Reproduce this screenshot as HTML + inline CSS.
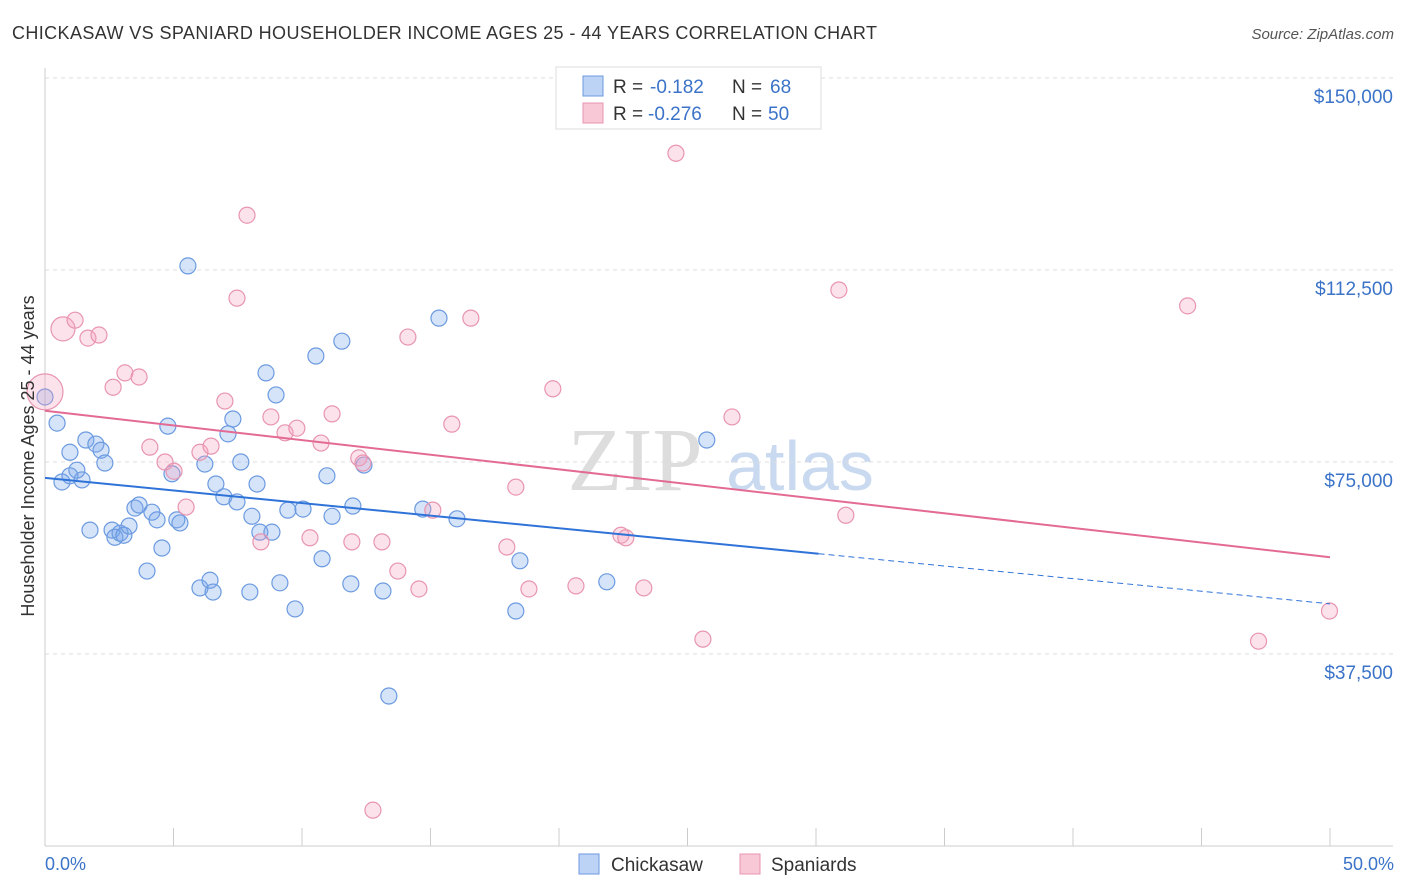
<!DOCTYPE html>
<html><head><meta charset="utf-8"><style>
body{margin:0;background:#fff;font-family:"Liberation Sans",sans-serif;}
svg{display:block}
</style></head><body>
<svg id="chart" width="1406" height="892">
<text x="12" y="39" font-size="18" fill="#333" textLength="865" lengthAdjust="spacing">CHICKASAW VS SPANIARD HOUSEHOLDER INCOME AGES 25 - 44 YEARS CORRELATION CHART</text>
<text x="1394" y="39" font-size="15" fill="#555" font-style="italic" text-anchor="end">Source: ZipAtlas.com</text>
<g><text x="635" y="490" font-size="90" fill="#ddd" font-family="Liberation Serif,serif" text-anchor="middle">ZIP</text><text x="800" y="490" font-size="70" fill="#c9d9ef" text-anchor="middle">atlas</text></g>
<g id="grid"></g><g id="axes"></g><g id="marks"></g>
<text transform="translate(34,456) rotate(-90)" font-size="18" fill="#333" text-anchor="middle">Householder Income Ages 25 - 44 years</text>
<text x="45" y="870" font-size="18" fill="#3b73c8">0.0%</text>
<text x="1394" y="870" font-size="18" fill="#3b73c8" text-anchor="end">50.0%</text>
<g>
<rect x="556" y="67" width="265" height="62" fill="#fff" stroke="#ddd"/>
<rect x="583" y="76" width="20" height="20" fill="#bcd3f5" stroke="#6b9ae0"/>
<rect x="583" y="103" width="20" height="20" fill="#f9c8d6" stroke="#e895b0"/>
<text x="613" y="93" font-size="19" fill="#333">R =</text>
<text x="650" y="93" font-size="19" fill="#3b73c8">-0.182</text>
<text x="732" y="93" font-size="19" fill="#333">N =</text>
<text x="770" y="93" font-size="19" fill="#3b73c8">68</text>
<text x="613" y="120" font-size="19" fill="#333">R =</text>
<text x="648" y="120" font-size="19" fill="#3b73c8">-0.276</text>
<text x="732" y="120" font-size="19" fill="#333">N =</text>
<text x="768" y="120" font-size="19" fill="#3b73c8">50</text>
</g>
<g>
<rect x="579" y="854" width="20" height="20" fill="#bcd3f5" stroke="#6b9ae0"/>
<text x="611" y="871" font-size="19" fill="#333">Chickasaw</text>
<rect x="740" y="854" width="20" height="20" fill="#f9c8d6" stroke="#e895b0"/>
<text x="771" y="871" font-size="19" fill="#333">Spaniards</text>
</g>
</svg>
<script>
const yTicks=[37500,75000,112500,150000];
const yTickLabels=["$37,500","$75,000","$112,500","$150,000"];
const blueX=[0,0.47,0.66,0.97,1.24,0.97,1.44,1.59,1.75,1.98,2.18,2.33,2.61,2.72,2.92,3.07,3.27,3.5,3.66,3.97,4.16,4.36,4.55,4.78,4.94,5.13,5.25,5.56,6.03,6.22,6.42,6.54,6.65,6.96,7.12,7.31,7.47,7.62,7.97,8.05,8.25,8.36,8.6,8.83,8.99,9.14,9.45,9.73,10.04,10.54,10.78,10.97,11.17,11.55,11.9,11.98,12.41,13.15,13.38,14.7,15.33,16.03,18.32,18.48,21.86,25.75];
const blueY=[87.7,82.6,71.1,76.9,73.4,72.3,71.5,79.3,61.7,78.5,77.3,74.8,61.7,60.3,61.1,60.7,62.5,66,66.6,53.7,65.2,63.7,58.2,82,72.7,63.7,63.1,113.3,50.4,74.6,51.9,49.6,70.7,68.2,80.5,83.4,67.2,75,49.6,64.4,70.7,61.3,92.4,61.3,88.1,51.4,65.6,46.3,65.8,95.7,56.1,72.3,64.4,98.6,51.2,66.4,74.4,49.8,29.3,65.8,103.1,63.9,45.9,55.7,51.6,79.3];
const pinkX=[0,0.7,1.17,1.67,2.1,2.65,3.11,3.66,4.08,4.67,5.02,5.49,6.03,6.46,7,7.47,7.86,8.4,8.79,9.34,9.8,10.31,10.74,11.17,11.94,12.21,12.37,12.76,13.11,13.73,14.12,14.55,15.09,15.83,16.57,17.97,18.32,18.83,19.76,20.66,22.41,22.6,23.3,24.55,25.6,26.73,30.89,31.16,44.46,47.22,49.98];
const pinkY=[88.7,101,102.7,99.2,99.8,89.6,92.4,91.6,77.9,75,73.2,66.2,76.9,78.1,86.9,107,123.2,59.4,83.8,80.7,81.6,60.2,78.7,84.4,59.4,75.8,74.8,7,59.4,53.7,99.4,50.2,65.6,82.4,103.1,58.4,70.1,50.2,89.3,50.8,60.7,60.2,50.4,135.3,40.4,83.8,108.6,64.6,105.5,40,45.9];
const pinkR=[18,12];
const blueTrend=[71.9,47.3], blueSolidEnd=30.1;
const pinkTrend=[85.0,56.4];
const NS="http://www.w3.org/2000/svg";
const X=v=>45+v/50*1285, Y=k=>846-k*1000/37500*192;
function mk(t,a,p){const e=document.createElementNS(NS,t);for(const k in a)e.setAttribute(k,a[k]);document.getElementById(p).appendChild(e);return e;}
yTicks.forEach((t,i)=>{
 const l=mk('line',{x1:45,x2:1393,y1:Y(t/1000),y2:Y(t/1000),stroke:'#ddd','stroke-dasharray':'4 4'},'grid');
 
 
 const tx=mk('text',{x:1393,y:Y(t/1000)+25,'font-size':19,fill:'#3b73c8','text-anchor':'end'},'grid');
 tx.textContent=yTickLabels[i];
 
 
});
const ax=mk('line',{x1:45,x2:45,y1:68,y2:846,stroke:'#ccc'},'axes');


const bx=mk('line',{x1:45,x2:1393,y1:846,y2:846,stroke:'#ccc'},'axes');


for(let i=0;i<=10;i++){const t=mk('line',{x1:X(i*5),x2:X(i*5),y1:828,y2:846,stroke:'#ccc'},'axes');
 
 }
blueX.forEach((x,i)=>{const c=mk('circle',{cx:X(x),cy:Y(blueY[i]),r:8,fill:'rgba(120,165,235,0.3)',stroke:'#6b9ae0','stroke-width':1.2},'marks');
 
 });
pinkX.forEach((x,i)=>{const c=mk('circle',{cx:X(x),cy:Y(pinkY[i]),r:pinkR[i]||8,fill:'rgba(245,160,190,0.3)',stroke:'#e895b0','stroke-width':1.2},'marks');
 
 });
const bAt=x=>blueTrend[0]+(blueTrend[1]-blueTrend[0])*x/50;
const l1=mk('line',{x1:X(0),y1:Y(bAt(0)),x2:X(blueSolidEnd),y2:Y(bAt(blueSolidEnd)),stroke:'#2f73d8','stroke-width':2},'marks');


const l2=mk('line',{x1:X(blueSolidEnd),y1:Y(bAt(blueSolidEnd)),x2:X(50),y2:Y(bAt(50)),stroke:'#2f73d8','stroke-width':1,'stroke-dasharray':'6 4'},'marks');


const l3=mk('line',{x1:X(0),y1:Y(pinkTrend[0]),x2:X(50),y2:Y(pinkTrend[1]),stroke:'#e36b93','stroke-width':2},'marks');


</script>
</body></html>
